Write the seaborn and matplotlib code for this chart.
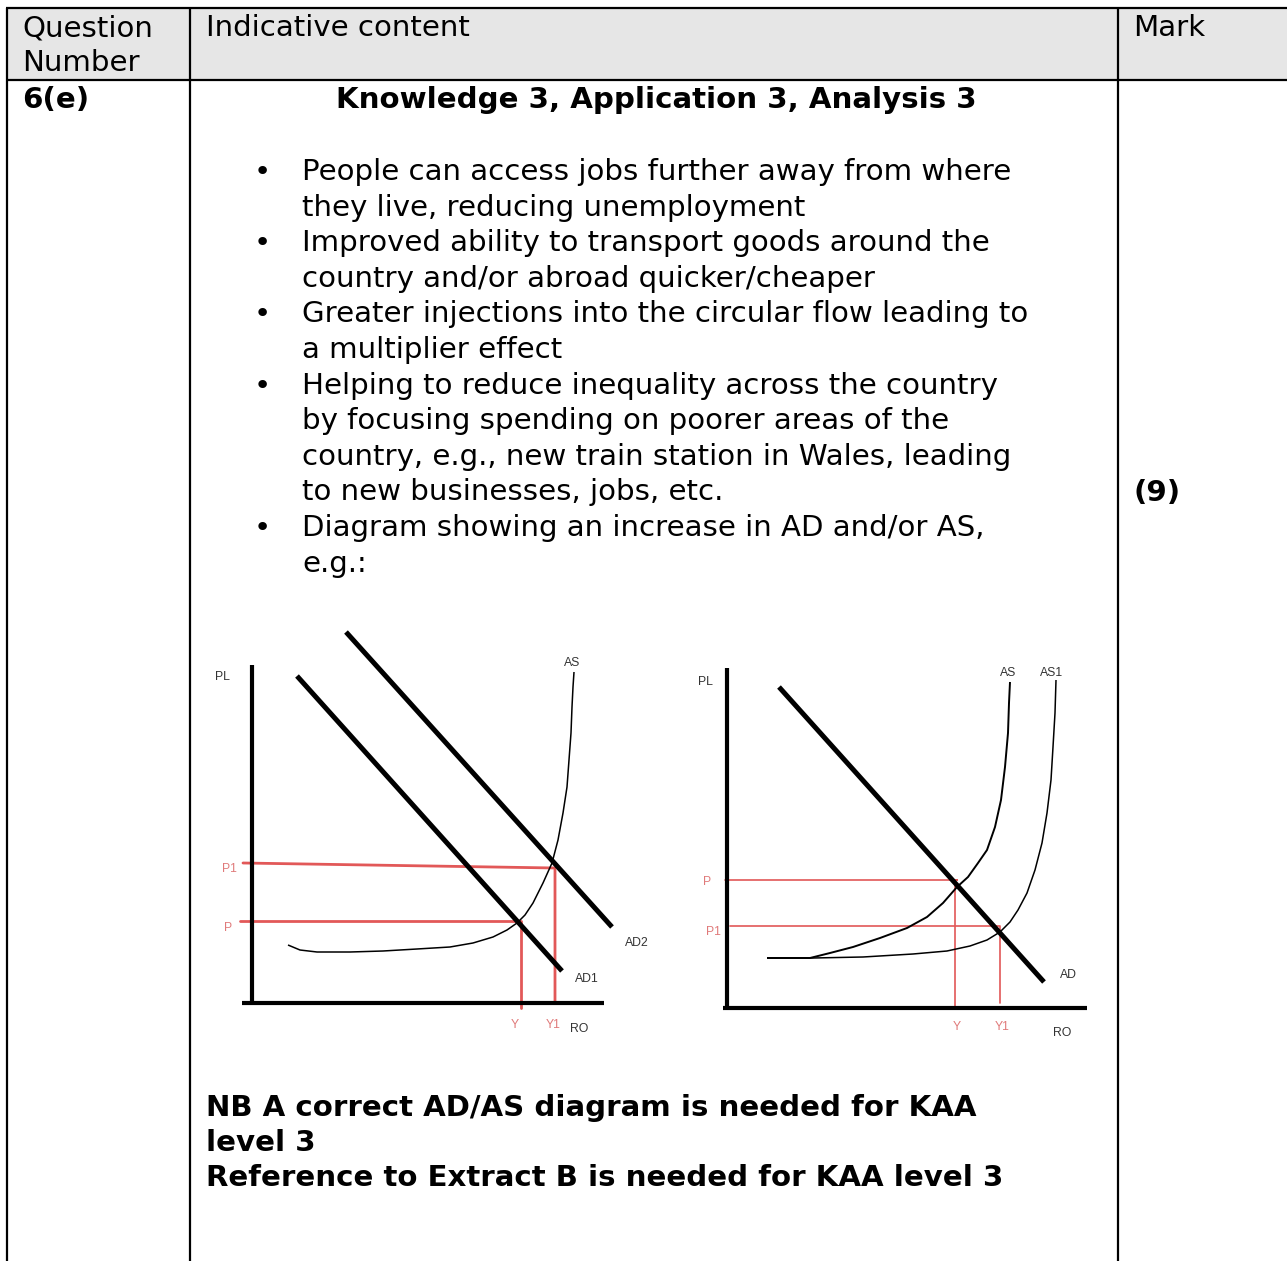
import matplotlib.pyplot as plt
import pandas as pd
import seaborn as sns

# ---- text content of the mark-scheme table ----
header_q = ["Question", "Number"]
header_content = "Indicative content"
header_mark = "Mark"
question = "6(e)"
heading = "Knowledge 3, Application 3, Analysis 3"
bullet_lines = [
    ("•", "People can access jobs further away from where"),
    ("", "they live, reducing unemployment"),
    ("•", "Improved ability to transport goods around the"),
    ("", "country and/or abroad quicker/cheaper"),
    ("•", "Greater injections into the circular flow leading to"),
    ("", "a multiplier effect"),
    ("•", "Helping to reduce inequality across the country"),
    ("", "by focusing spending on poorer areas of the"),
    ("", "country, e.g., new train station in Wales, leading"),
    ("", "to new businesses, jobs, etc."),
    ("•", "Diagram showing an increase in AD and/or AS,"),
    ("", "e.g.:"),
]
mark = "(9)"
notes = [
    "NB A correct AD/AS diagram is needed for KAA",
    "level 3",
    "Reference to Extract B is needed for KAA level 3",
]

# ---- diagram 1: AD shifts right (output RO vs price level PL) ----
d1_axes_x = [[-1, -1], [-11, 351]]
d1_axes_y = [[0, 338], [0, 0]]
d1_ad1_x = [44, 309]
d1_ad1_y = [327, 32]
d1_ad2_x = [93, 359]
d1_ad2_y = [371, 76]
d1_as_x = [35, 47, 64, 97, 130, 164, 197, 220, 240, 254, 264, 272, 280, 290,
           299, 305, 310, 314, 316, 318, 319, 320, 321]
d1_as_y = [58, 53, 51, 51, 52, 54, 56, 60, 66, 73, 80, 88, 100, 120,
           140, 163, 190, 216, 243, 270, 296, 316, 331]
d1_p_x = [-13, 267, 268, 268]
d1_p_y = [82, 82, 82, -5]
d1_p1_x = [-10, 302, 302, 302]
d1_p1_y = [140, 135, 135, 1]

# ---- diagram 2: AS shifts right ----
d2_axes_x = [[0, 0], [-4, 360]]
d2_axes_y = [[0, 340], [0, 0]]
d2_ad_x = [52, 317]
d2_ad_y = [321, 26]
d2_as_x = [40, 83, 103, 126, 153, 180, 200, 216, 230, 241, 251, 260, 268,
           274, 278, 281, 282, 283]
d2_as_y = [50, 50, 55, 61, 70, 80, 91, 105, 121, 131, 145, 158, 181,
           208, 241, 275, 305, 326]
d2_as1_x = [40, 86, 136, 186, 220, 243, 260, 273, 283, 291, 300, 308, 315,
            320, 324, 326, 328, 329]
d2_as1_y = [50, 50, 51, 54, 57, 62, 68, 76, 86, 98, 115, 138, 165,
            195, 228, 261, 295, 328]
d2_p_x = [-2, 230, 228, 228]
d2_p_y = [128, 128, 128, 0]
d2_p1_x = [3, 273, 273, 273]
d2_p1_y = [82, 82, 82, 5]

W, H = 1287, 1261
sns.set_theme(style="white")
plt.rcParams['font.family'] = ['DejaVu Sans']
plt.rcParams['text.color'] = 'black'

fig = plt.figure(figsize=(W / 100, H / 100), dpi=100)
ax = fig.add_axes([0, 0, 1, 1])
ax.set_xlim(0, W)
ax.set_ylim(H, 0)
ax.axis("off")

# table frame
ax.fill_between([7, W], 8, 80, color="#e6e6e6", lw=0)
lw = 1.6
ax.hlines([8, 80], 6, W, color="black", lw=lw)
ax.vlines([7, 190, 1118], 8, H, color="black", lw=lw)

fs = 21.1
ax.text(22, 36, header_q[0], fontsize=fs, va="baseline")
ax.text(22, 71, header_q[1], fontsize=fs, va="baseline")
ax.text(206, 36, header_content, fontsize=fs, va="baseline")
ax.text(1133, 36, header_mark, fontsize=fs, va="baseline")
ax.text(22, 108, question, fontsize=fs, fontweight="bold", va="baseline")
ax.text(656, 108, heading, fontsize=fs, fontweight="bold", va="baseline", ha="center")
for i, (b, line) in enumerate(bullet_lines):
    y = 180 + 35.6 * i
    if b:
        ax.text(262, y, b, fontsize=fs, va="baseline", ha="center")
    ax.text(302, y, line, fontsize=fs, va="baseline")
ax.text(1133, 501, mark, fontsize=fs, fontweight="bold", va="baseline")
for i, line in enumerate(notes):
    ax.text(206, 1116 + 35 * i, line, fontsize=fs, fontweight="bold", va="baseline")

red = "#e25858"
lab_gray = "#333333"
lab_red = "#e07a7a"


def diagram(box, origin, curves, reds, labels, red_lw):
    x0, y0, x1, y1 = box
    a = fig.add_axes([x0 / W, (H - y1) / H, (x1 - x0) / W, (y1 - y0) / H])
    a.set_xlim(x0 - origin[0], x1 - origin[0])
    a.set_ylim(origin[1] - y1, origin[1] - y0)
    a.axis("off")
    for xs, ys in reds:
        sns.lineplot(x=xs, y=ys, ax=a, color=red, lw=red_lw, sort=False, estimator=None)
    for xs, ys, w in curves:
        sns.lineplot(x=xs, y=ys, ax=a, color="black", lw=w, sort=False, estimator=None,
                     solid_joinstyle="round", solid_capstyle="butt")
    for txt, x, y, c in labels:
        a.text(x, y, txt, fontsize=8.8, color=c, family=["Liberation Sans"],
               ha="center", va="center")


diagram((200, 620, 660, 1050), (253, 1003),
        [(d1_axes_x[0], d1_axes_y[0], 3.0), (d1_axes_x[1], d1_axes_y[1], 3.0),
         (d1_ad1_x, d1_ad1_y, 3.6), (d1_ad2_x, d1_ad2_y, 3.6),
         (d1_as_x, d1_as_y, 1.1)],
        [(d1_p_x, d1_p_y), (d1_p1_x, d1_p1_y)],
        [("PL", -31, 326, lab_gray), ("AS", 319, 340, lab_gray),
         ("P1", -24, 134, lab_red), ("P", -25, 75, lab_red),
         ("AD2", 384, 60, lab_gray), ("AD1", 334, 24, lab_gray),
         ("Y", 262, -22, lab_red), ("Y1", 300, -22, lab_red),
         ("RO", 326, -26, lab_gray)],
        2.0)

diagram((680, 620, 1100, 1050), (727, 1008),
        [(d2_axes_x[0], d2_axes_y[0], 3.0), (d2_axes_x[1], d2_axes_y[1], 3.0),
         (d2_ad_x, d2_ad_y, 3.6), (d2_as_x, d2_as_y, 1.4),
         (d2_as1_x, d2_as1_y, 1.1)],
        [(d2_p_x, d2_p_y), (d2_p1_x, d2_p1_y)],
        [("PL", -22, 326, lab_gray), ("AS", 281, 335, lab_gray),
         ("AS1", 325, 335, lab_gray), ("P", -20, 126, lab_red),
         ("P1", -14, 76, lab_red), ("AD", 341, 33, lab_gray),
         ("Y", 230, -19, lab_red), ("Y1", 275, -19, lab_red),
         ("RO", 335, -25, lab_gray)],
        1.2)

fig.savefig("out.png", dpi=100)
